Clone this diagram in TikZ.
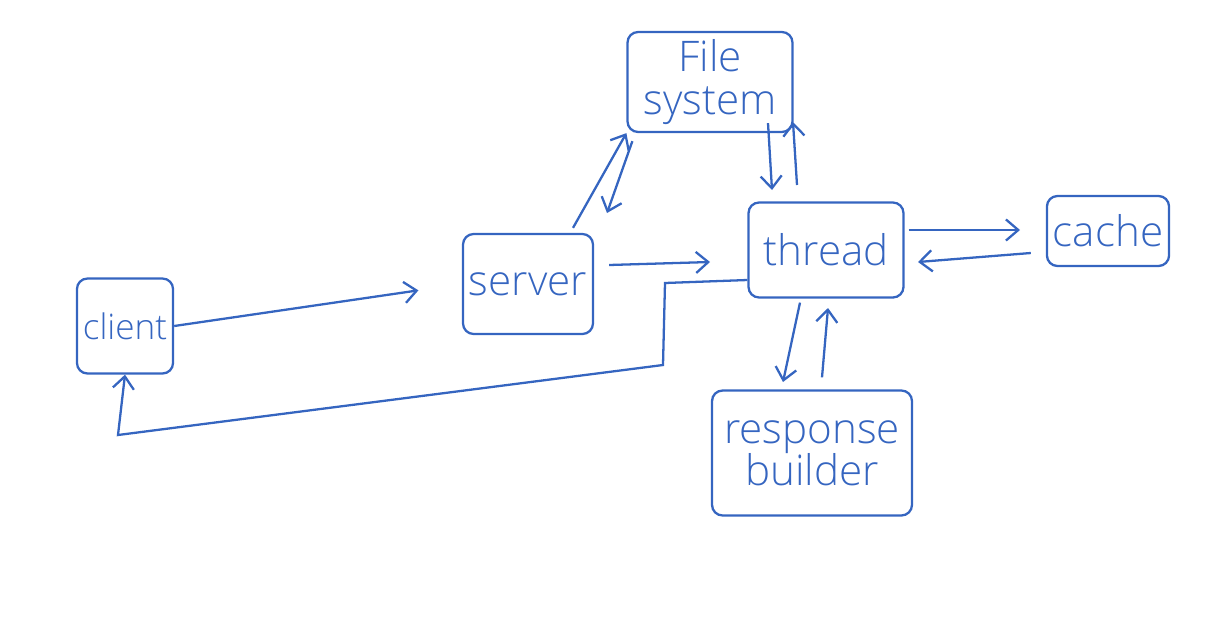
\documentclass[tikz,border=0pt]{standalone}
\usepackage{fontspec}
\setmainfont{Open Sans Light}
\usetikzlibrary{arrows.meta}
\definecolor{pen}{HTML}{3565C0}
\tikzset{
  box/.style={draw=pen, line width=1.3pt, rounded corners=6pt, text=pen, align=center, font=\fontsize{24}{24}\selectfont},
  link/.style={draw=pen, line width=1.3pt, -{Straight Barb[length=7pt,width=12pt]}}
}
\begin{document}
\begin{tikzpicture}[x=0.02cm,y=-0.02cm]
    \useasboundingbox (0,0) rectangle (1207,626);
    % components
    \node[box, minimum width=1.9cm, minimum height=1.9cm, font=\fontsize{20}{20}\selectfont] (client) at (125,326) {client};
    \node[box, minimum width=2.6cm, minimum height=2.0cm] (server) at (528,284) {server};
    \node[box, minimum width=3.3cm, minimum height=2.0cm] (fs) at (710,82) {File\\system};
    \node[box, minimum width=3.1cm, minimum height=1.9cm] (thread) at (826,250) {thread};
    \node[box, minimum width=2.3cm, minimum height=1.4cm] (cache) at (1108,231) {cache};
    \node[box, minimum width=4.0cm, minimum height=2.5cm] (builder) at (812,453) {response\\builder};
    % request path
    \draw[link, shorten >=25pt] (client.east) -- (server.west);
    \draw[link] (server.east) ++(15,-19) -- (710,262);
    \draw[link] (server.north) ++(45,-5) -- (fs.south west);
    \draw[link] (fs.south west) ++(6,8) -- (607,213);
    \draw[link] (fs.south) ++(58,-10) -- (772,190);
    \draw[link] (797,185) -- (793,122);
    \draw[link] (thread.east) ++(4,-20) -- (1020,230);
    \draw[link] (cache.west) ++(-15,22) -- (918,262);
    \draw[link] (thread.south) ++(-26,4) -- (783,382);
    \draw[link] (builder.north) ++(10,-12) -- (828,308);
    % reply back to client
    \draw[link] (thread.west |- 0,280) -- (665,283) -- (663,365) -- (118,435) -- (client.south);
\end{tikzpicture}
\end{document}
